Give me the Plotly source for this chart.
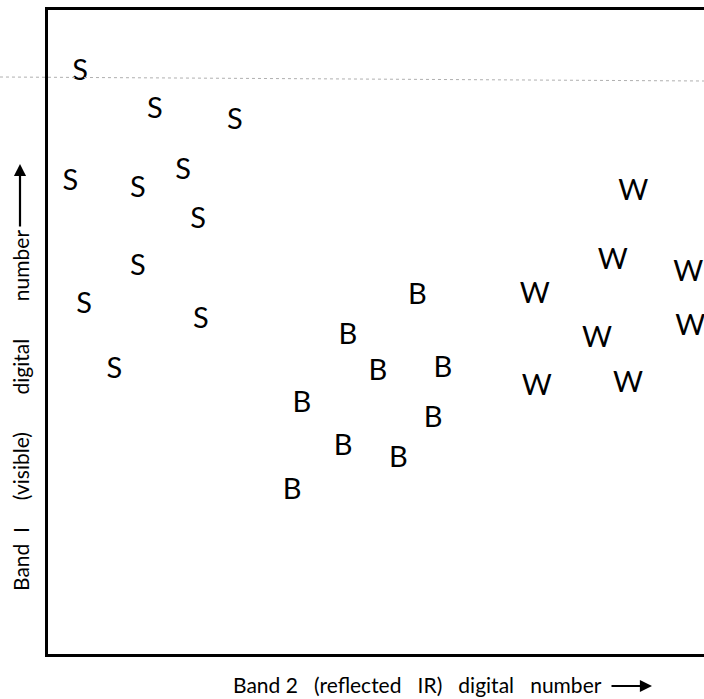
import plotly.graph_objects as go

# Band 2 (reflected IR) and Band 1 (visible) digital numbers, arbitrary scale 0-100
soil_x = [4.9, 16.3, 28.5, 3.4, 13.7, 20.6, 22.9, 13.7, 5.5, 23.3, 10.1]
soil_y = [90.3, 84.4, 82.7, 73.2, 72.1, 74.9, 67.3, 59.9, 54.0, 51.8, 44.0]

b_x = [56.3, 45.7, 50.3, 60.2, 38.7, 58.7, 45.0, 53.4, 37.2]
b_y = [55.5, 49.3, 43.7, 44.2, 38.7, 36.4, 32.1, 30.2, 25.2]

w_x = [89.2, 86.1, 97.6, 74.2, 83.7, 97.9, 74.5, 88.4]
w_y = [71.7, 60.9, 59.1, 55.7, 48.8, 50.7, 41.4, 41.8]

def sp(n):
    return "\u00a0" * n

x_title = f"Band 2{sp(3)}(reflected{sp(3)}IR){sp(3)}digital{sp(3)}number"
y_title = f"Band{sp(2)}I{sp(5)}(visible){sp(7)}digital{sp(7)}number"

FONT = "Lato, 'Open Sans', sans-serif"

def px_x(p):
    return (p - 48) / 656

def px_y(p):
    return (654 - p) / 644

fig = go.Figure()
for xs, ys, letter in [(soil_x, soil_y, "S"), (b_x, b_y, "B"), (w_x, w_y, "W")]:
    fig.add_trace(go.Scatter(
        x=xs, y=ys, mode="text", text=[letter] * len(xs),
        textposition="middle center",
        textfont=dict(family=FONT, size=29, color="black"),
        cliponaxis=False, showlegend=False, hoverinfo="skip",
    ))

fig.update_layout(
    width=704, height=699,
    margin=dict(l=48, r=0, t=10, b=45, autoexpand=False),
    paper_bgcolor="white", plot_bgcolor="white",
    xaxis=dict(range=[0, 100], showgrid=False, zeroline=False, showticklabels=False,
               ticks="", showline=True, linecolor="black", linewidth=3, mirror=True),
    yaxis=dict(range=[0, 100], showgrid=False, zeroline=False, showticklabels=False,
               ticks="", showline=True, linecolor="black", linewidth=3, mirror=False),
    shapes=[dict(type="line", xref="paper", yref="paper", x0=px_x(0), x1=1.0,
                 y0=px_y(77), y1=px_y(81),
                 line=dict(color="#b0b0b0", width=1, dash="dot"))],
    annotations=[
        dict(text=x_title, xref="paper", yref="paper", x=px_x(418), y=px_y(684),
             showarrow=False, xanchor="center", yanchor="middle",
             font=dict(family=FONT, size=21, color="black")),
        dict(text="", xref="paper", yref="paper", x=px_x(652), y=px_y(686),
             axref="pixel", ayref="pixel", ax=-42, ay=0,
             showarrow=True, arrowhead=2, arrowsize=1.1, arrowwidth=2.2, arrowcolor="black"),
        dict(text=y_title, xref="paper", yref="paper", x=px_x(20), y=px_y(411),
             showarrow=False, xanchor="center", yanchor="middle", textangle=-90,
             font=dict(family=FONT, size=21, color="black")),
        dict(text="", xref="paper", yref="paper", x=px_x(20), y=px_y(164),
             axref="pixel", ayref="pixel", ax=0, ay=64,
             showarrow=True, arrowhead=2, arrowsize=1.1, arrowwidth=2.2, arrowcolor="black"),
    ],
)

fig.write_html(
    "out.html",
    config={"displayModeBar": False},
    post_script="document.body.style.margin='0';document.body.style.overflow='hidden';",
)
